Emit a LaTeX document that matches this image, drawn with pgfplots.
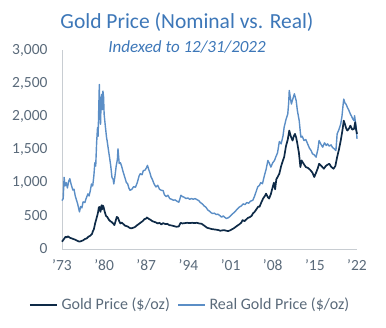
\documentclass[border=0pt]{standalone}
\usepackage{pgfplots}
\pgfplotsset{compat=1.18}
\usepackage{pgfplotstable}
\usepackage{fontspec}
\setmainfont{Carlito}
\definecolor{titleblue}{HTML}{3D77B8}
\definecolor{navy}{HTML}{0E2A47}
\definecolor{lightblue}{HTML}{5B8EC6}
\definecolor{ticktext}{HTML}{5A6A7A}
\definecolor{axisgray}{HTML}{C8CDD2}
\pgfplotstableread{
year val
1973.0 730
1973.2 760
1973.35 1080
1973.5 950
1973.7 1000
1973.9 920
1974.1 1020
1974.3 1060
1974.5 980
1974.8 890
1975.0 900
1975.2 800
1975.4 740
1975.6 680
1975.8 600
1975.9 560
1976.1 640
1976.3 620
1976.5 710
1976.8 700
1977.0 760
1977.3 830
1977.5 800
1977.7 880
1977.9 980
1978.1 950
1978.3 1110
1978.45 1300
1978.6 1250
1978.75 1600
1978.9 1830
1979.0 1700
1979.1 2100
1979.2 2480
1979.3 2000
1979.4 1880
1979.5 2250
1979.6 2330
1979.7 2100
1979.8 2380
1979.9 2300
1980.0 2030
1980.2 1850
1980.4 1680
1980.5 1630
1980.7 1500
1980.9 1380
1981.1 1250
1981.3 1080
1981.5 1050
1981.6 980
1981.8 1100
1982.0 1250
1982.2 1350
1982.3 1510
1982.4 1400
1982.5 1290
1982.7 1300
1982.9 1250
1983.1 1180
1983.4 1090
1983.7 1000
1983.9 985
1984.1 920
1984.3 885
1984.6 900
1984.9 940
1985.2 930
1985.5 1000
1985.8 1100
1986.0 1135
1986.3 1120
1986.5 1180
1986.8 1190
1987.0 1220
1987.2 1260
1987.4 1200
1987.6 1150
1987.8 1085
1988.0 1050
1988.3 980
1988.6 935
1988.9 960
1989.2 900
1989.5 885
1989.8 880
1990.0 820
1990.3 790
1990.6 810
1990.9 760
1991.2 750
1991.5 735
1991.8 740
1992.1 720
1992.4 705
1992.6 760
1992.75 810
1993.0 790
1993.3 780
1993.6 760
1993.9 770
1994.2 750
1994.5 760
1994.8 750
1995.1 760
1995.4 745
1995.7 730
1996.0 700
1996.3 680
1996.6 650
1996.9 630
1997.2 590
1997.5 570
1997.8 545
1998.0 535
1998.3 540
1998.6 520
1998.9 525
1999.2 505
1999.5 480
1999.8 500
2000.0 480
2000.3 460
2000.6 470
2000.9 490
2001.1 510
2001.4 535
2001.7 560
2002.0 590
2002.3 620
2002.5 635
2002.8 650
2003.1 680
2003.4 670
2003.7 700
2004.0 690
2004.3 720
2004.7 735
2005.0 800
2005.3 880
2005.5 935
2005.8 960
2006.0 1000
2006.3 985
2006.6 1100
2006.9 1200
2007.2 1335
2007.4 1300
2007.7 1235
2008.0 1300
2008.3 1335
2008.5 1385
2008.8 1450
2009.1 1620
2009.4 1585
2009.7 1700
2009.9 1835
2010.2 1950
2010.5 2035
2010.65 2200
2010.75 2390
2010.9 2300
2011.1 2185
2011.3 2250
2011.6 2340
2011.9 2235
2012.1 2085
2012.4 1935
2012.6 1750
2012.7 1685
2012.9 1700
2013.2 1635
2013.5 1650
2013.8 1585
2014.1 1520
2014.4 1480
2014.6 1435
2014.9 1420
2015.2 1385
2015.5 1500
2015.7 1635
2016.0 1580
2016.3 1535
2016.6 1600
2016.9 1560
2017.1 1585
2017.4 1550
2017.7 1570
2017.9 1535
2018.2 1510
2018.5 1485
2018.7 1735
2019.0 1800
2019.3 1885
2019.5 2000
2019.7 2180
2019.8 2260
2020.0 2200
2020.2 2180
2020.4 2135
2020.6 2100
2020.9 2035
2021.1 2000
2021.3 1960
2021.5 1935
2021.6 2010
2021.75 1900
2021.9 1800
2022.0 1660
}\realtable
\pgfplotstableread{
year val
1973.0 110
1973.2 135
1973.4 160
1973.6 185
1973.8 175
1974.0 190
1974.3 170
1974.6 160
1974.9 150
1975.2 140
1975.5 125
1975.9 110
1976.2 120
1976.5 130
1976.8 150
1977.1 160
1977.4 185
1977.7 200
1978.0 230
1978.1 260
1978.3 300
1978.5 385
1978.7 450
1978.9 520
1979.0 560
1979.1 620
1979.2 635
1979.3 600
1979.4 560
1979.5 640
1979.6 660
1979.7 600
1979.8 655
1979.9 635
1980.1 560
1980.3 500
1980.5 485
1980.8 440
1981.0 420
1981.2 410
1981.5 385
1981.7 360
1981.9 420
1982.1 485
1982.3 470
1982.5 420
1982.7 385
1982.9 400
1983.2 375
1983.5 350
1983.9 340
1984.2 320
1984.5 310
1984.8 320
1985.1 330
1985.5 360
1985.8 380
1986.1 400
1986.4 420
1986.7 450
1987.0 460
1987.1 475
1987.4 455
1987.7 440
1988.0 420
1988.3 410
1988.6 400
1988.9 385
1989.2 395
1989.5 370
1989.8 390
1990.2 375
1990.5 380
1990.8 360
1991.2 355
1991.6 345
1992.0 335
1992.4 340
1992.7 395
1993.0 385
1993.4 390
1993.8 395
1994.2 390
1994.6 395
1995.0 390
1995.4 395
1995.8 385
1996.2 380
1996.5 360
1996.8 340
1997.1 320
1997.5 310
1997.9 300
1998.3 295
1998.7 290
1999.0 285
1999.3 275
1999.6 280
1999.9 285
2000.3 275
2000.6 270
2000.9 280
2001.2 295
2001.5 310
2001.8 330
2002.1 350
2002.5 375
2002.8 400
2003.0 435
2003.3 420
2003.6 445
2003.9 470
2004.2 480
2004.5 500
2004.7 535
2005.0 560
2005.3 600
2005.6 640
2005.8 635
2006.1 700
2006.4 760
2006.7 800
2006.9 835
2007.2 780
2007.4 760
2007.7 830
2008.0 935
2008.2 1000
2008.4 900
2008.6 1050
2008.9 1100
2009.1 1135
2009.4 1250
2009.7 1335
2009.9 1385
2010.2 1550
2010.5 1650
2010.75 1785
2011.0 1700
2011.3 1635
2011.5 1700
2011.7 1735
2011.9 1680
2012.1 1585
2012.35 1450
2012.6 1235
2012.8 1335
2013.1 1290
2013.5 1235
2013.9 1220
2014.3 1185
2014.6 1150
2014.9 1085
2015.2 1150
2015.5 1220
2015.7 1285
2016.0 1260
2016.3 1230
2016.5 1210
2016.8 1250
2017.1 1270
2017.4 1285
2017.7 1240
2018.1 1210
2018.4 1250
2018.7 1385
2019.0 1500
2019.3 1635
2019.6 1800
2019.8 1935
2020.0 1880
2020.2 1820
2020.4 1785
2020.7 1820
2020.9 1860
2021.2 1800
2021.5 1810
2021.7 1910
2021.85 1800
2022.0 1735
}\nomtable
\begin{document}
\begin{tikzpicture}
\useasboundingbox (-62pt,-79pt) rectangle (324pt,249pt);
\begin{axis}[
  at={(0,0)}, anchor=south west,
  scale only axis,
  width=295pt, height=199pt,
  xmin=1973, xmax=2022, ymin=0, ymax=3000,
  clip=false,
  axis x line*=bottom, axis y line*=left,
  axis line style={draw=axisgray, line width=0.8pt},
  xtick={1973,1980,1987,1994,2001,2008,2015,2022},
  xticklabels={'73,'80,'87,'94,'01,'08,'15,'22},
  ytick={0,500,1000,1500,2000,2500,3000},
  yticklabels={0,500,{1,000},{1,500},{2,000},{2,500},{3,000}},
  major tick length=0pt,
  ytick style={draw=none},
  xtick style={draw=none},
  tick label style={font=\fontsize{15.5}{18}\selectfont, text=ticktext},
  yticklabel style={xshift=-11pt},
  xticklabel style={yshift=-7pt},
  /pgf/number format/assume math mode=true,
]
\addplot[lightblue, line width=1.4pt, line join=round] table[x=year,y=val] {\realtable};
\addplot[navy, line width=1.7pt, line join=round] table[x=year,y=val] {\nomtable};
\end{axis}
\node[text=titleblue, font=\fontsize{21.5}{24}\selectfont] at (125pt,227pt) {Gold Price (Nominal vs. Real)};
\node[text=titleblue, font=\fontsize{17}{20}\selectfont\itshape] at (125pt,202pt) {Indexed to 12/31/2022};
\draw[navy, line width=1.7pt] (-32pt,-56pt) -- (-5pt,-56pt);
\node[anchor=west, text=ticktext, font=\fontsize{16}{18}\selectfont] at (-4pt,-56pt) {Gold Price (\$/oz)};
\draw[lightblue, line width=1.4pt] (116pt,-56pt) -- (143pt,-56pt);
\node[anchor=west, text=ticktext, font=\fontsize{16}{18}\selectfont] at (144pt,-56pt) {Real Gold Price (\$/oz)};
\end{tikzpicture}
\end{document}
